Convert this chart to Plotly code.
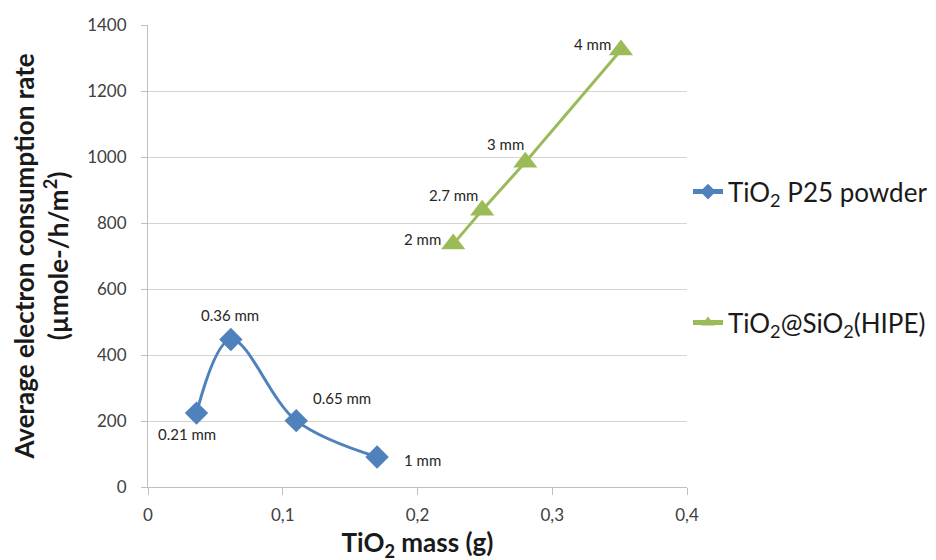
import plotly.graph_objects as go

# Data
p25_mass = [0.036, 0.0615, 0.110, 0.170]
p25_rate = [224, 447, 201, 91]
p25_labels = ["0.21 mm", "0.36 mm", "0.65 mm", "1 mm"]

hipe_mass = [0.2265, 0.248, 0.280, 0.351]
hipe_rate = [736, 839, 984, 1324]
hipe_labels = ["2 mm", "2.7 mm", "3 mm", "4 mm"]

x_ticks = [0, 0.1, 0.2, 0.3, 0.4]
x_ticklabels = ["0", "0,1", "0,2", "0,3", "0,4"]
y_ticks = [0, 200, 400, 600, 800, 1000, 1200, 1400]

BLUE = "#4F81BD"
GREEN = "#9BBB59"
FONT = "Lato, 'Open Sans', sans-serif"

fig = go.Figure()
fig.add_trace(go.Scatter(
    x=p25_mass, y=p25_rate, mode="lines+markers",
    name="TiO<sub>2</sub> P25 powder", legendgroup="a",
    line=dict(color=BLUE, width=3, shape="spline", smoothing=1.0),
    marker=dict(symbol="diamond", size=18, color=BLUE),
))
fig.add_trace(go.Scatter(
    x=hipe_mass, y=hipe_rate, mode="lines+markers",
    name="TiO<sub>2</sub>@SiO<sub>2</sub>(HIPE)", legendgroup="b",
    line=dict(color=GREEN, width=3),
    marker=dict(symbol="triangle-up", size=21, color=GREEN),
))

p25_shift = [(-10, -21), (-1, 24), (46, 23), (45, -3)]
hipe_shift = [(-31, 5), (-29, 15), (-20, 18), (-28, 6)]
for xs, ys, labs, shifts in [(p25_mass, p25_rate, p25_labels, p25_shift),
                             (hipe_mass, hipe_rate, hipe_labels, hipe_shift)]:
    for x, y, t, (dx, dy) in zip(xs, ys, labs, shifts):
        fig.add_annotation(x=x, y=y, text=t, showarrow=False,
                           xshift=dx, yshift=dy,
                           font=dict(size=15, color="#262626", family=FONT))

fig.update_layout(
    width=936, height=560,
    margin=dict(l=140, r=256, t=17, b=81),
    paper_bgcolor="white", plot_bgcolor="white",
    font=dict(family=FONT, color="#404040", size=17),
    showlegend=True,
    legend=dict(x=1.0, xanchor="left", y=0.69, yanchor="top",
                tracegroupgap=94, traceorder="grouped",
                itemsizing="constant",
                font=dict(size=26, color="#1a1a1a", family=FONT),
                itemwidth=30),
)
fig.update_xaxes(
    range=[0, 0.4], tickvals=x_ticks, ticktext=x_ticklabels,
    showgrid=False, showline=True, linecolor="#BFBFBF", linewidth=1,
    ticks="outside", ticklen=7, tickcolor="#BFBFBF", ticklabelstandoff=6,
    tickfont=dict(size=17, color="#404040"),
    title=dict(text="<b>TiO<sub>2</sub> mass (g)</b>", standoff=9,
               font=dict(size=26, color="#1a1a1a")),
    zeroline=False, automargin=False,
)
fig.update_yaxes(
    range=[0, 1400], tickvals=y_ticks,
    showgrid=True, gridcolor="#D4D4D4", gridwidth=1,
    showline=True, linecolor="#BFBFBF", linewidth=1,
    ticks="outside", ticklen=6, tickcolor="#BFBFBF", ticklabelstandoff=11,
    tickfont=dict(size=17, color="#404040"),
    title=dict(text="<b>Average electron consumption rate<br>(µmole-/h/m<sup>2</sup>)</b>",
               standoff=14, font=dict(size=26, color="#1a1a1a")),
    zeroline=False, automargin=False,
)

fig.write_html("out.html")
